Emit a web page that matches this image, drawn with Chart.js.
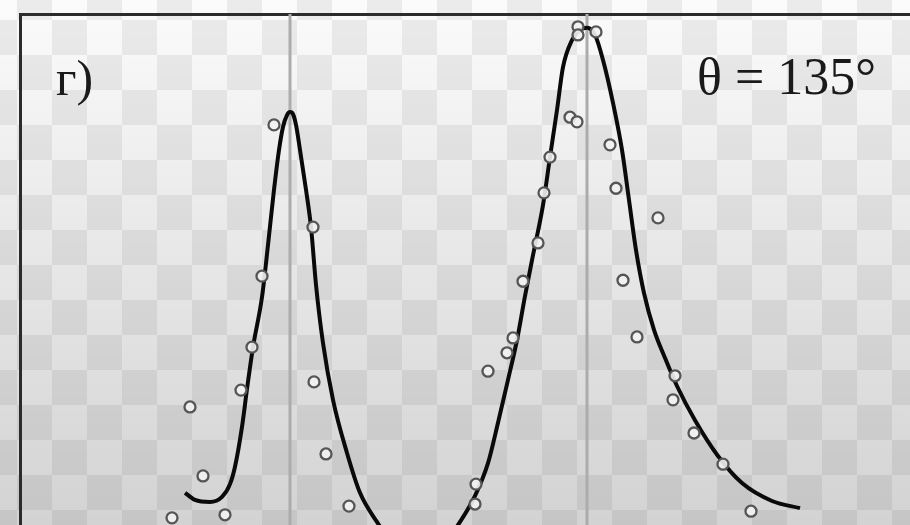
<!DOCTYPE html>
<html>
<head>
<meta charset="utf-8">
<script src="https://cdn.jsdelivr.net/npm/chart.js@4/dist/chart.umd.min.js"></script>
<style>
  html, body { margin: 0; padding: 0; }
  body {
    width: 910px; height: 525px; overflow: hidden; position: relative;
    background:
      linear-gradient(to bottom, rgba(0,0,0,0) 0%, rgba(0,0,0,0.16) 100%),
      repeating-conic-gradient(#ebebeb 0% 25%, #fbfbfb 0% 50%) 17px 20px / 70px 70px;
  }
  #wrap { position: absolute; left: 0; top: 0; width: 910px; height: 525px; }
  .lbl { position: absolute; font-family: "Liberation Serif", "DejaVu Serif", serif; color: #1a1a1a; line-height: 1; white-space: nowrap; }
</style>
</head>
<body>
<div id="wrap"><canvas id="c" width="910" height="525"></canvas></div>
<div class="lbl" id="panel" style="left:56px; top:53px; font-size:50px;">г)</div>
<div class="lbl" id="angle" style="left:697px; top:51px; font-size:52px;">θ = 135°</div>
<script>
// ---- data (arbitrary units) ----
const measX = [15.2, 17.0, 18.3, 20.5, 22.1, 23.2, 24.2, 25.4, 29.3, 29.4, 30.6, 32.9,
               45.5, 45.6, 46.8, 48.7, 49.3, 50.3, 51.8, 52.4, 53.0, 55.0, 55.7, 55.8, 55.8, 57.6,
               59.0, 59.6, 63.8, 60.3, 61.7, 65.3, 65.5, 67.4, 70.3, 73.1];
const measY = [0.014, 0.231, 0.096, 0.020, 0.264, 0.348, 0.487, 0.783, 0.583, 0.280, 0.139, 0.037,
               0.041, 0.080, 0.301, 0.337, 0.366, 0.477, 0.552, 0.650, 0.720, 0.798, 0.789, 0.975, 0.959, 0.965,
               0.744, 0.659, 0.601, 0.479, 0.368, 0.245, 0.292, 0.180, 0.119, 0.027];

const fitX = [16.5, 17.5, 19.0, 20.2, 21.0, 21.5, 22.2, 22.7, 23.3, 24.2, 24.8, 25.4, 25.9, 26.3, 26.7, 27.0,
              27.3, 27.6, 28.0, 28.6, 29.1, 29.6, 30.3, 31.3, 32.7, 34.0, 35.7,
              37.0, 38.5, 39.8, 41.2, 42.7,
              44.0, 45.5, 46.8, 47.8, 48.8, 49.7, 50.5, 51.3, 52.3, 53.0, 53.7, 54.3, 55.2, 56.0, 56.7, 57.5,
              58.3, 59.3, 60.2, 60.9, 61.6, 62.4, 63.4, 64.5, 65.7, 67.5, 69.8, 72.2, 75.2, 78.0];
const fitY = [0.063, 0.049, 0.045, 0.055, 0.080, 0.114, 0.192, 0.266, 0.348, 0.446, 0.548, 0.656, 0.734, 0.779, 0.802, 0.808,
              0.804, 0.783, 0.734, 0.656, 0.583, 0.470, 0.356, 0.245, 0.141, 0.063, 0.006,
              -0.029, -0.049, -0.055, -0.049, -0.029,
              0.006, 0.057, 0.121, 0.200, 0.284, 0.362, 0.448, 0.528, 0.626, 0.720, 0.812, 0.896, 0.949, 0.969, 0.973, 0.959,
              0.910, 0.826, 0.734, 0.636, 0.538, 0.454, 0.382, 0.327, 0.272, 0.205, 0.135, 0.082, 0.047, 0.033];

const markerX = [27.0, 56.7];
const xRange = [0, 89];
const yRange = [0, 1];

// ---- build datasets ----
const pts = measX.map((x, i) => ({x, y: measY[i]}));
const fit = fitX.map((x, i) => ({x, y: fitY[i]}));
const vlines = markerX.map(x => ({
  data: [{x, y: yRange[0]}, {x, y: yRange[1]}],
  showLine: true, borderColor: '#acacac', borderWidth: 3, pointRadius: 0, clip: false
}));

new Chart(document.getElementById('c'), {
  type: 'scatter',
  data: {
    datasets: [
      { data: pts, pointRadius: 5.5, pointBorderWidth: 2.3, pointBorderColor: '#555555',
        pointBackgroundColor: 'rgba(242,242,242,0.9)', showLine: false, clip: false },
      { data: fit, showLine: true, borderColor: '#0a0a0a', borderWidth: 4, pointRadius: 0,
        cubicInterpolationMode: 'monotone', clip: false },
      ...vlines
    ]
  },
  options: {
    responsive: false, animation: false, devicePixelRatio: 1,
    layout: { autoPadding: false, padding: { left: 20, top: 14, right: 0, bottom: 0 } },
    plugins: { legend: { display: false }, tooltip: { enabled: false } },
    scales: {
      x: { type: 'linear', position: 'top', min: xRange[0], max: xRange[1],
           ticks: { display: false }, grid: { display: false, drawTicks: false },
           border: { display: true, color: '#2b2b2b', width: 3 } },
      y: { type: 'linear', position: 'left', min: yRange[0], max: yRange[1],
           ticks: { display: false }, grid: { display: false, drawTicks: false },
           border: { display: true, color: '#2b2b2b', width: 3 } }
    }
  }
});
</script>
</body>
</html>
